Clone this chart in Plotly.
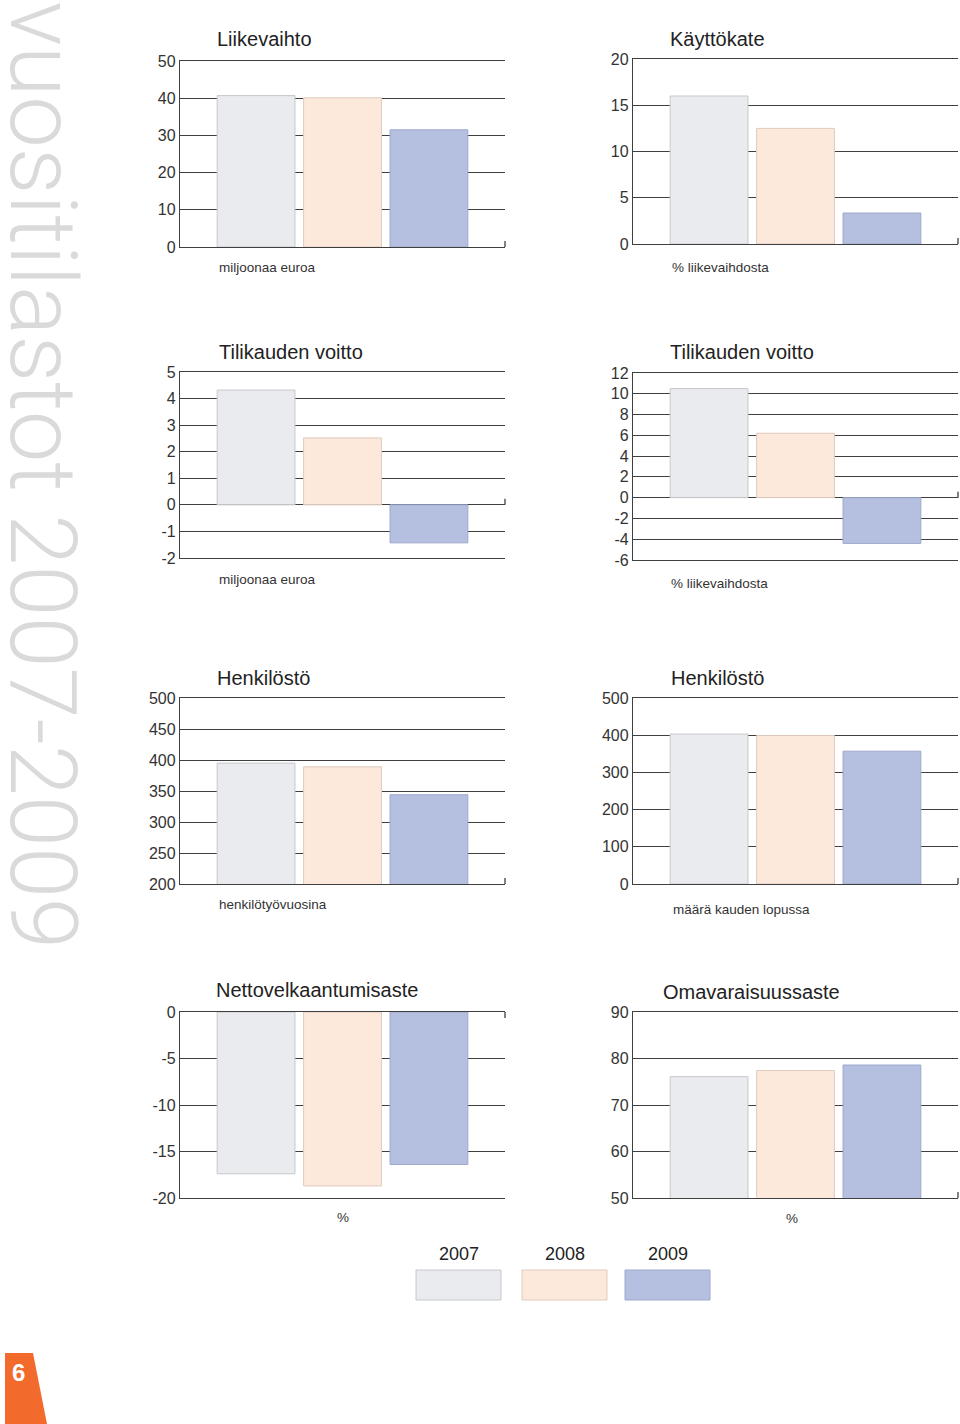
import plotly.graph_objects as go

W, H = 960, 1424

years = ["2007", "2008", "2009"]
bar_colors = ["#e9ebee", "#fde9dc", "#b5bfe0"]
edge_colors = ["#c6c8cb", "#dfcabd", "#9ea8cc"]

# values
liikevaihto = [40.7, 40.1, 31.5]        # miljoonaa euroa
kayttokate = [16.0, 12.5, 3.35]         # % liikevaihdosta
voitto_meur = [4.32, 2.52, -1.43]       # miljoonaa euroa
voitto_pct = [10.5, 6.2, -4.4]          # % liikevaihdosta
henk_vuosina = [395, 389, 344]          # henkilötyövuosina
henk_lopussa = [403, 399, 357]          # määrä kauden lopussa
nettovelka = [-17.4, -18.7, -16.4]      # %
omavarais = [76.1, 77.4, 78.6]          # %

FONT = "Liberation Sans"
GRID = "#3f3f3f"

def px_x(p):
    return p / W

def px_y(p):
    return 1 - p / H

charts = [
    dict(title="Liikevaihto", unit="miljoonaa euroa", values=liikevaihto,
         lo=0, hi=50, step=10, base=0, col=0, top=61, bottom=247,
         tpos=(215, 39), upos=(217, 267), uanchor="left"),
    dict(title="Käyttökate", unit="% liikevaihdosta", values=kayttokate,
         lo=0, hi=20, step=5, base=0, col=1, top=59, bottom=244,
         tpos=(668, 39), upos=(670, 267), uanchor="left"),
    dict(title="Tilikauden voitto", unit="miljoonaa euroa", values=voitto_meur,
         lo=-2, hi=5, step=1, base=0, col=0, top=372, bottom=558,
         tpos=(217, 352), upos=(217, 580), uanchor="left"),
    dict(title="Tilikauden voitto", unit="% liikevaihdosta", values=voitto_pct,
         lo=-6, hi=12, step=2, base=0, col=1, top=373, bottom=560,
         tpos=(668, 352), upos=(669, 583), uanchor="left"),
    dict(title="Henkilöstö", unit="henkilötyövuosina", values=henk_vuosina,
         lo=200, hi=500, step=50, base=200, col=0, top=698, bottom=884,
         tpos=(215, 678), upos=(217, 904), uanchor="left"),
    dict(title="Henkilöstö", unit="määrä kauden lopussa", values=henk_lopussa,
         lo=0, hi=500, step=100, base=0, col=1, top=698, bottom=884,
         tpos=(669, 678), upos=(671, 909), uanchor="left"),
    dict(title="Nettovelkaantumisaste", unit="%", values=nettovelka,
         lo=-20, hi=0, step=5, base=0, col=0, top=1012, bottom=1198,
         tpos=(214, 990), upos=(343, 1217), uanchor="center", down=True),
    dict(title="Omavaraisuussaste", unit="%", values=omavarais,
         lo=50, hi=90, step=10, base=50, col=1, top=1012, bottom=1198,
         tpos=(661, 992), upos=(792, 1218), uanchor="center"),
]

col_x = [(180, 505), (633, 958)]

fig = go.Figure()
annotations = []
shapes = []

for i, c in enumerate(charts, start=1):
    xa = "x" if i == 1 else f"x{i}"
    ya = "y" if i == 1 else f"y{i}"
    xkey = "xaxis" if i == 1 else f"xaxis{i}"
    ykey = "yaxis" if i == 1 else f"yaxis{i}"
    for j, yr in enumerate(years):
        fig.add_trace(go.Bar(
            x=[yr], y=[c["values"][j]], xaxis=xa, yaxis=ya,
            width=0.9, marker=dict(color=bar_colors[j],
                                   line=dict(color=edge_colors[j], width=1)),
            showlegend=False, hoverinfo="skip"))
    x0, x1 = col_x[c["col"]]
    tickvals = list(range(c["lo"], c["hi"] + 1, c["step"]))
    fig.update_layout(**{
        xkey: dict(domain=[px_x(x0), px_x(x1)], anchor=ya, type="category",
                   range=[-0.88, 2.88], showgrid=False, automargin=False,
                   showline=True, mirror=True, linecolor=GRID, linewidth=1.3,
                   zeroline=False, showticklabels=False, ticks="", fixedrange=True),
        ykey: dict(domain=[px_y(c["bottom"]), px_y(c["top"])], anchor=xa,
                   range=[c["lo"], c["hi"]], automargin=False,
                   tickvals=tickvals, ticktext=[str(v) for v in tickvals],
                   showgrid=True, gridcolor=GRID, gridwidth=1.3,
                   zeroline=False, showline=True, linecolor=GRID, linewidth=1.3,
                   ticks="", tickfont=dict(family=FONT, size=16, color="#333333"),
                   fixedrange=True),
    })
    shapes.append(dict(type="line", xref=f"{xa} domain", yref=ya,
                       x0=1, x1=1, ysizemode="pixel",
                       yanchor=c["hi"] if c.get("down") else c["base"],
                       y0=0, y1=(-6 if c.get("down") else 6),
                       line=dict(color=GRID, width=1.3)))
    annotations.append(dict(text=c["title"], xref="paper", yref="paper",
                            x=px_x(c["tpos"][0]), y=px_y(c["tpos"][1]),
                            xanchor="left", yanchor="middle", showarrow=False,
                            font=dict(family=FONT, size=20, color="#222222")))
    annotations.append(dict(text=c["unit"], xref="paper", yref="paper",
                            x=px_x(c["upos"][0]), y=px_y(c["upos"][1]),
                            xanchor=c["uanchor"], yanchor="middle", showarrow=False,
                            font=dict(family=FONT, size=13.5, color="#333333")))

# legend drawn as swatches under the charts
legend_centers = [459, 565, 668]
for j, yr in enumerate(years):
    cx = legend_centers[j]
    annotations.append(dict(text=yr, xref="paper", yref="paper",
                            x=px_x(cx), y=px_y(1254), xanchor="center", yanchor="middle",
                            showarrow=False, font=dict(family=FONT, size=18, color="#222222")))
    shapes.append(dict(type="rect", xref="paper", yref="paper",
                       x0=px_x(cx - 43), x1=px_x(cx + 42), y0=px_y(1300), y1=px_y(1270),
                       fillcolor=bar_colors[j], line=dict(color=edge_colors[j], width=1)))

# vertical page title
annotations.append(dict(text="vuositilastot 2007-2009", xref="paper", yref="paper",
                        x=px_x(42), y=1.0, xanchor="center", yanchor="top",
                        textangle=90, showarrow=False, borderpad=0, yshift=0,
                        font=dict(family="Roboto", weight=300, size=92, color="#dadada")))

# page-number tab
path = (f"M {px_x(5)},{px_y(1353)} L {px_x(33)},{px_y(1353)} "
        f"L {px_x(47)},{px_y(1424)} L {px_x(5)},{px_y(1424)} Z")
shapes.append(dict(type="path", xref="paper", yref="paper", path=path,
                   fillcolor="#f26a2c", line=dict(width=0)))
annotations.append(dict(text="<b>6</b>", xref="paper", yref="paper",
                        x=px_x(18), y=px_y(1372), xanchor="center", yanchor="middle",
                        showarrow=False,
                        font=dict(family="Liberation Sans Narrow, Liberation Sans", size=24, color="#ffffff")))

fig.update_layout(width=W, height=H,
                  margin=dict(l=0, r=0, t=0, b=0, pad=0, autoexpand=False),
                  paper_bgcolor="#ffffff", plot_bgcolor="rgba(0,0,0,0)",
                  barmode="overlay", annotations=annotations, shapes=shapes,
                  showlegend=False)

fig.write_html("out.html", config={"displayModeBar": False})
